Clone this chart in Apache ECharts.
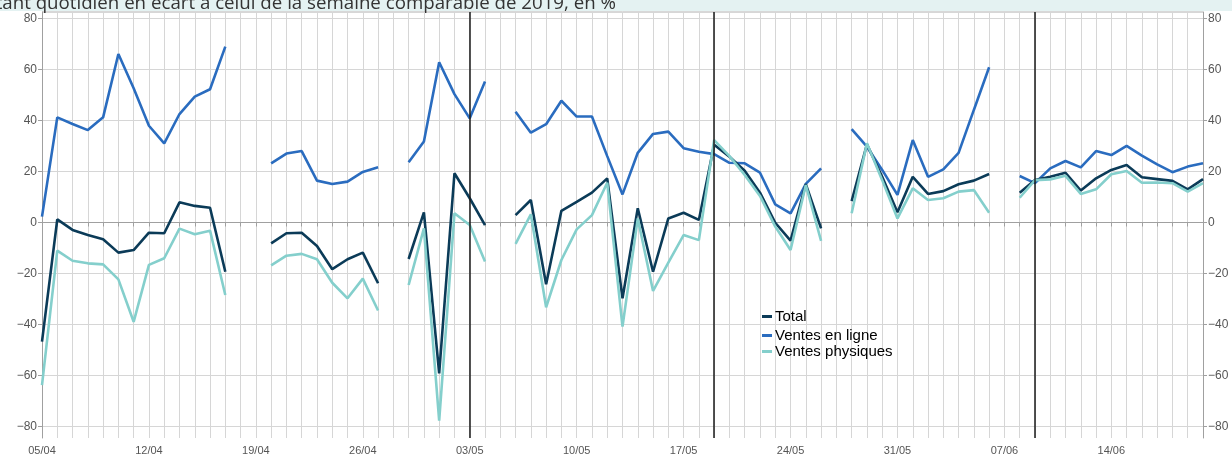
<!DOCTYPE html>
<html>
<head>
<meta charset="utf-8">
<script src="https://cdn.jsdelivr.net/npm/echarts@6/dist/echarts.min.js"></script>
<style>html,body{margin:0;padding:0;background:#fff;}#c{width:1232px;height:457px;}</style>
</head>
<body>
<div id="c"></div>
<script>
var categories = [
'05/04','06/04','07/04','08/04','09/04','10/04','11/04','12/04','13/04','14/04','15/04','16/04','17/04','18/04','19/04',
'20/04','21/04','22/04','23/04','24/04','25/04','26/04','27/04','28/04','29/04','30/04',
'01/05','02/05','03/05','04/05','05/05','06/05','07/05','08/05','09/05','10/05','11/05','12/05','13/05','14/05','15/05',
'16/05','17/05','18/05','19/05','20/05','21/05','22/05','23/05','24/05','25/05','26/05','27/05','28/05','29/05','30/05','31/05',
'01/06','02/06','03/06','04/06','05/06','06/06','07/06','08/06','09/06','10/06','11/06','12/06','13/06','14/06','15/06',
'16/06','17/06','18/06','19/06','20/06'];

var total = [
-46.7,1.2,-2.9,-4.9,-6.6,-11.8,-10.8,-4,-4.2,7.9,6.5,5.8,-19.3,
null,null,
-8.2,-4.2,-4,-9.2,-18.3,-14.4,-11.8,-23.8,
null,
-14.3,4,-59.1,19.3,9.5,-1,
null,
2.9,8.8,-24.2,4.6,8.1,11.7,17.3,-29.7,5.6,-19.3,1.6,3.8,1,30.5,25.8,20.3,11.7,-0.1,-7.1,15,-2.3,
null,
8.4,30.6,17.9,4,17.9,11.2,12.3,15,16.4,19,
null,
11.7,16.6,17.9,19.5,12.5,17.3,20.6,22.5,17.7,17,16.3,13,17];

var enLigne = [
2.3,41.2,38.6,36.2,41.2,66,52.6,37.9,31,42.5,49.3,52.2,68.9,
null,null,
23.2,27,28,16.4,15.1,16,19.8,21.6,
null,
23.6,31.7,62.8,50.3,40.8,55.2,
null,
43.4,35.2,38.5,47.7,41.5,41.5,26,11,27.3,34.7,35.6,29.1,27.7,26.8,23.4,23.2,19.5,7.1,3.6,15.1,21.2,
null,
36.6,29.7,20.6,10.8,32.3,17.9,20.8,27.3,44.1,60.8,
null,
18.2,15.4,21.2,24.1,21.6,28,26.4,30,26.2,22.8,19.7,21.9,23.2];

var physiques = [
-63.7,-11,-15,-16,-16.4,-22.3,-38.9,-16.6,-14,-2.4,-4.6,-3.2,-28.4,
null,null,
-16.8,-13,-12.3,-14.4,-23.6,-29.7,-22,-34.5,
null,
-24.5,-2.3,-77.6,3.6,-1,-15.3,
null,
-8.4,3.2,-33.2,-14.7,-2.7,2.9,15.6,-40.8,1.6,-26.8,-15.7,-4.9,-6.9,32.3,26,18.6,10.4,-1.6,-10.8,14.7,-7.2,
null,
3.6,31,16.6,1.6,13.4,8.8,9.5,12.1,12.7,3.8,
null,
9.7,16.6,16.9,18.3,11.2,13,18.9,20.2,15.6,15.7,15.4,12.1,15.4];

var yTicks = [-80,-60,-40,-20,0,20,40,60,80];
var markerDates = ['03/05','19/05','09/06'];
var titleText = 'Montant quotidien en écart à celui de la semaine comparable de 2019, en %';

var C_TOTAL = '#0b3b58', C_LIGNE = '#2a6cbf', C_PHYS = '#84cfcc';
var chart = echarts.init(document.getElementById('c'), null, {renderer:'canvas'});

function yAxisCfg(pos){
  return {
    type:'value', position:pos, min:-84.43, max:82.47,
    axisLine:{show:true, lineStyle:{color:'#a0a0a0', width:1}},
    axisTick:{show:true, length:4, customValues:yTicks, lineStyle:{color:'#a0a0a0'}},
    axisLabel:{customValues:yTicks, margin:5, color:'#555', fontSize:12, fontFamily:'Liberation Sans',
      formatter:function(v){return String(v).replace('-','\u2212');}},
    splitLine:{show:pos==='left', lineStyle:{color:'#d6d6d6', width:1}}
  };
}

chart.setOption({
  animation:false,
  grid:{left:42, right:29, top:12, bottom:19, containLabel:false},
  graphic:[
    {type:'rect', shape:{x:0,y:0,width:1232,height:11}, style:{fill:'#e4f2f2'}, z:-1},
    {type:'line', shape:{x1:42,y1:12,x2:1203,y2:12}, style:{stroke:'#b0b0b0', lineWidth:1}},
    {type:'text', right:616, top:-6, style:{text:titleText, fill:'#333', font:'18.7px "Open Sans"'}}
  ],
  legend:[
    {data:['Total'], left:762, top:309, orient:'vertical', padding:0, itemWidth:10, itemHeight:3, itemGap:0,
     icon:'rect', textStyle:{color:'#000', fontSize:15, fontFamily:'Liberation Sans', padding:[0,0,0,-2]}},
    {data:['Ventes en ligne','Ventes physiques'], left:762, top:328, orient:'vertical', padding:0, itemWidth:10, itemHeight:3, itemGap:1,
     icon:'rect', textStyle:{color:'#000', fontSize:15, lineHeight:15, fontFamily:'Liberation Sans', padding:[0,0,0,-2]}}
  ],
  xAxis:{
    type:'category', data:categories, boundaryGap:false,
    axisLine:{lineStyle:{color:'#a0a0a0'}},
    axisTick:{interval:0, length:4, lineStyle:{color:'#a0a0a0'}},
    axisLabel:{interval:6, color:'#555', fontSize:11, fontFamily:'Liberation Sans', margin:7},
    splitLine:{show:true, interval:0, lineStyle:{color:'#d6d6d6', width:1}}
  },
  yAxis:[yAxisCfg('left'), yAxisCfg('right')],
  series:[
    {name:'Ventes en ligne', type:'line', data:enLigne, showSymbol:false, connectNulls:false, color:C_LIGNE,
     lineStyle:{width:2.6, color:C_LIGNE}, z:2},
    {name:'Total', type:'line', data:total, showSymbol:false, connectNulls:false, color:C_TOTAL,
     lineStyle:{width:2.6, color:C_TOTAL}, z:3,
     markLine:{silent:true, symbol:['none','none'], label:{show:false},
       lineStyle:{color:'#1a1a1a', width:1.5, type:'solid'},
       data:markerDates.map(function(d){return {xAxis:d};})}},
    {name:'Ventes physiques', type:'line', data:physiques, showSymbol:false, connectNulls:false, color:C_PHYS,
     lineStyle:{width:2.6, color:C_PHYS}, z:4}
  ]
});
</script>
</body>
</html>
